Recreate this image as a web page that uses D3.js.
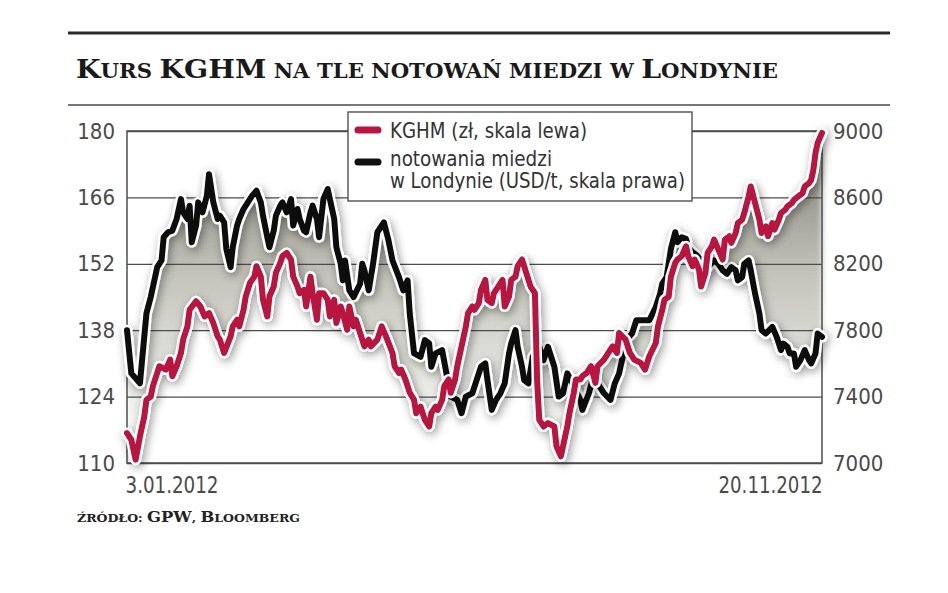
<!DOCTYPE html>
<html>
<head>
<meta charset="utf-8">
<script src="https://cdn.jsdelivr.net/npm/d3@7"></script>
<style>
  body { margin: 0; background: #fff; }
  svg { display: block; }
  .tick text, .lg text { font-family: "DejaVu Sans", sans-serif; font-stretch: condensed; fill: #4a4a4a; }
</style>
</head>
<body>
<svg width="948" height="593"></svg>
<script>
// KGHM share price (PLN, left axis) - day offset from 3 Jan 2012
var kghmDay = [0,2,4,6,8,9,11,12,14,15,18,20,21,23,25,26,28,29,32,34,36,38,40,42,43,45,48,49,51,52,54,55,57,59,60,62,63,65,66,68,69,71,72,74,76,77,79,80,82,83,85,86,88,89,91,93,94,96,97,99,100,102,103,105,106,108,110,112,113,116,118,120,123,124,126,127,129,131,133,134,136,138,140,141,143,144,146,147,149,150,152,153,155,157,158,160,161,163,164,166,167,169,170,172,174,175,177,178,180,181,183,184,186,187,189,190,191,193,195,198,199,201,202,204,205,207,208,210,211,213,215,217,218,221,223,225,227,228,231,233,235,238,240,242,245,246,248,249,251,252,254,255,257,259,260,262,263,265,266,268,269,271,272,274,276,277,279,280,282,283,285,286,288,289,291,293,294,296,297,299,300,302,303,305,306,308,309,311,313,314,316,317,318,319,320,322];
var kghmPln = [116.3,114.9,110.7,115.6,119.8,123.3,124.0,126.2,129.0,130.4,129.7,131.8,128.3,130.4,133.2,136.0,138.8,142.3,144.1,143.0,140.9,141.6,139.5,136.7,136.0,133.2,136.7,138.8,140.2,138.8,142.3,145.1,148.0,149.3,151.5,149.3,144.4,140.9,145.1,147.2,150.1,152.2,153.6,154.3,152.9,149.3,147.2,145.8,146.5,143.0,149.3,145.8,140.2,145.8,145.8,144.4,140.9,144.4,139.5,143.0,141.6,138.1,143.0,138.8,140.2,137.4,134.6,136.0,134.6,136.0,138.8,136.7,133.2,130.4,129.0,129.7,127.6,124.8,123.3,120.5,121.9,119.1,117.7,120.5,121.9,121.2,123.3,126.2,127.6,124.8,127.6,130.4,134.6,138.8,141.6,143.0,142.3,143.7,146.5,148.6,144.4,143.7,145.8,147.2,148.6,143.0,145.1,148.6,149.3,151.5,152.9,151.5,148.6,147.2,145.8,127.6,119.1,117.7,118.4,117.7,113.5,111.4,113.5,117.7,120.5,124.8,127.6,127.6,128.3,129.0,130.4,126.9,130.4,131.8,133.2,134.6,133.2,137.4,136.0,133.2,131.8,131.1,129.7,132.5,135.3,138.8,142.3,144.4,145.1,149.3,152.2,152.9,153.6,155.7,153.6,151.5,152.9,150.8,147.2,150.1,154.3,155.7,157.1,155.0,152.9,157.1,157.8,156.4,158.5,160.6,161.3,162.7,166.2,168.3,164.8,161.3,158.5,159.9,157.8,160.6,159.2,161.3,162.7,163.4,164.1,164.8,165.5,166.2,166.9,168.3,169.0,169.7,171.8,175.4,177.5,179.6];

// copper in London (USD/t, right axis)
var copperDay = [0,2,6,8,9,11,12,14,16,17,19,21,23,25,26,28,29,30,32,33,35,37,38,40,42,43,45,46,48,49,51,52,54,56,58,60,62,63,65,66,68,69,71,72,74,76,77,79,80,82,83,85,86,88,89,91,93,94,96,97,99,100,101,103,105,108,109,110,112,114,116,119,121,123,126,128,130,131,133,136,138,140,141,143,146,148,150,153,155,157,160,162,164,166,167,169,171,173,175,177,178,180,181,183,184,186,188,191,193,195,198,200,202,204,210,211,214,216,219,221,224,226,228,230,231,234,236,239,242,245,247,248,250,252,254,255,257,259,260,262,264,266,267,269,272,274,276,278,280,282,283,285,286,288,289,291,293,294,296,299,301,303,304,306,307,309,310,312,314,316,317,319,320,322];
var copperUsd = [7800,7540,7480,7760,7900,8000,8060,8180,8220,8360,8390,8400,8470,8590,8510,8470,8550,8330,8430,8570,8510,8610,8740,8570,8470,8490,8450,8290,8180,8300,8430,8470,8530,8570,8610,8640,8570,8490,8360,8300,8400,8490,8550,8570,8510,8590,8430,8530,8470,8400,8390,8510,8550,8470,8360,8590,8650,8590,8470,8300,8200,8100,8220,8040,8000,8080,8200,8160,8040,8200,8390,8450,8350,8220,8120,8040,8100,7900,7660,7640,7740,7720,7580,7660,7680,7540,7400,7380,7300,7400,7420,7500,7580,7600,7500,7320,7380,7420,7480,7660,7720,7800,7700,7580,7500,7480,7640,7700,7620,7700,7580,7400,7420,7540,7380,7320,7420,7520,7460,7420,7380,7480,7540,7660,7740,7780,7860,7860,7860,7940,8020,8080,8120,8290,8390,8330,8360,8350,8300,8270,8250,8220,8140,8180,8220,8200,8160,8140,8180,8160,8100,8120,8200,8220,8160,8020,7900,7800,7780,7820,7760,7680,7720,7700,7660,7660,7580,7620,7680,7620,7600,7660,7780,7760];

var leftTicks = [110, 124, 138, 152, 166, 180];
var rightTicks = [7000, 7400, 7800, 8200, 8600, 9000];
var startDate = new Date(2012, 0, 3);
var endDate = new Date(2012, 10, 20);

var svg = d3.select("svg"),
  plot = {left: 127, right: 822, top: 131, bottom: 463};

var x = d3.scaleTime().domain([startDate, endDate]).range([plot.left, plot.right]);
var yL = d3.scaleLinear().domain([110, 180]).range([plot.bottom, plot.top]);
var yR = d3.scaleLinear().domain([7000, 9000]).range([plot.bottom, plot.top]);

var kghm = kghmDay.map(function(d, i) { return {date: d3.timeDay.offset(startDate, d), v: kghmPln[i]}; });
var copper = copperDay.map(function(d, i) { return {date: d3.timeDay.offset(startDate, d), v: copperUsd[i]}; });

var defs = svg.append("defs");
var grad = defs.append("linearGradient").attr("id", "fillGrad")
  .attr("gradientUnits", "userSpaceOnUse").attr("x1", 0).attr("y1", 160).attr("x2", 0).attr("y2", 420);
grad.append("stop").attr("offset", 0).attr("stop-color", "#8a8a80");
grad.append("stop").attr("offset", 0.45).attr("stop-color", "#c4c4bc");
grad.append("stop").attr("offset", 1).attr("stop-color", "#f4f4f2");

defs.append("filter").attr("id", "soft")
  .append("feGaussianBlur").attr("stdDeviation", 3);

var sh = defs.append("filter").attr("id", "shadow")
  .attr("x", "-5%").attr("y", "-10%").attr("width", "115%").attr("height", "130%");
sh.append("feGaussianBlur").attr("in", "SourceAlpha").attr("stdDeviation", 5).attr("result", "blur");
sh.append("feOffset").attr("in", "blur").attr("dx", 2).attr("dy", 3).attr("result", "off");
sh.append("feComponentTransfer").attr("in", "off").attr("result", "shade")
  .append("feFuncA").attr("type", "linear").attr("slope", 0.4);
var merge = sh.append("feMerge");
merge.append("feMergeNode").attr("in", "shade");
merge.append("feMergeNode").attr("in", "SourceGraphic");

// small caps drawn by hand: capitals big, lower case as smaller capitals
function smallCaps(sel, str, big, small) {
  str.split(/(\s+)/).forEach(function(word) {
    var parts = word.match(/([A-ZĄĆĘŁŃÓŚŹŻ]+|[^A-ZĄĆĘŁŃÓŚŹŻ]+)/g) || [];
    parts.forEach(function(p) {
      var isUpper = /[A-ZĄĆĘŁŃÓŚŹŻ]/.test(p[0]);
      sel.append("tspan").style("font-size", (isUpper ? big : small) + "px").text(isUpper ? p : p.toUpperCase());
    });
  });
}

// title and rules
svg.append("line").attr("x1", 68).attr("x2", 890).attr("y1", 33).attr("y2", 33)
  .attr("stroke", "#2a2a2a").attr("stroke-width", 3);
svg.append("line").attr("x1", 68).attr("x2", 890).attr("y1", 105).attr("y2", 105)
  .attr("stroke", "#777").attr("stroke-width", 2);
var title = svg.append("text")
  .attr("x", 76).attr("y", 78)
  .attr("textLength", 702).attr("lengthAdjust", "spacingAndGlyphs")
  .style("font-family", "'DejaVu Serif', 'Liberation Serif', serif")
  .style("font-weight", "bold").style("fill", "#1a1a1a");
smallCaps(title, "Kurs KGHM na tle notowań miedzi w Londynie", 26, 19.5);

// shaded band between the two lines
var lineL = d3.line().x(function(d) { return x(d.date); }).y(function(d) { return yL(d.v); });
var lineR = d3.line().x(function(d) { return x(d.date); }).y(function(d) { return yR(d.v); });
var band = kghm.map(function(d) { return [x(d.date), yL(d.v)]; })
  .concat(copper.slice().reverse().map(function(d) { return [x(d.date), yR(d.v)]; }));
svg.append("path")
  .attr("d", d3.line()(band) + "Z")
  .attr("fill", "url(#fillGrad)")
  .attr("filter", "url(#soft)");

// grid + axes
var w = plot.right - plot.left;
svg.append("g")
  .attr("transform", "translate(" + plot.left + ",0)")
  .call(d3.axisLeft(yL).tickValues(leftTicks).tickSize(-w).tickPadding(12))
  .call(function(g) { g.select(".domain").remove(); })
  .call(function(g) { g.selectAll(".tick line").attr("stroke", "#4d4d4d").attr("stroke-width", 1.3); })
  .call(function(g) { g.selectAll(".tick text").style("font-size", "22px"); });

svg.append("g")
  .attr("transform", "translate(" + plot.right + ",0)")
  .call(d3.axisRight(yR).tickValues(rightTicks).tickSize(0).tickPadding(11).tickFormat(d3.format("d")))
  .call(function(g) { g.select(".domain").remove(); })
  .call(function(g) { g.selectAll(".tick text").style("font-size", "22px"); });

var dateWidths = [93, 104];
svg.append("g")
  .attr("transform", "translate(0," + plot.bottom + ")")
  .call(d3.axisBottom(x).tickValues([startDate, endDate]).tickSize(0).tickPadding(14)
    .tickFormat(d3.timeFormat("%-d.%m.%Y")))
  .call(function(g) { g.select(".domain").remove(); })
  .call(function(g) {
    g.selectAll(".tick text").style("font-size", "23px")
      .attr("textLength", function(d, i) { return dateWidths[i]; })
      .attr("lengthAdjust", "spacingAndGlyphs")
      .attr("text-anchor", function(d, i) { return i === 0 ? "start" : "end"; })
      .attr("dx", function(d, i) { return i === 0 ? -2 : 0; });
  });

svg.append("rect")
  .attr("x", plot.left).attr("y", plot.top).attr("width", w).attr("height", plot.bottom - plot.top)
  .attr("fill", "none").attr("stroke", "#4d4d4d").attr("stroke-width", 1.5);

// lines: white halo under colored stroke, soft drop shadow
function drawSeries(data, line, color) {
  var g = svg.append("g").attr("filter", "url(#shadow)");
  g.append("path").datum(data).attr("d", line)
    .attr("fill", "none").attr("stroke", "#fff").attr("stroke-width", 11)
    .attr("stroke-linejoin", "round").attr("stroke-linecap", "round");
  g.append("path").datum(data).attr("d", line)
    .attr("fill", "none").attr("stroke", color).attr("stroke-width", 6)
    .attr("stroke-linejoin", "round").attr("stroke-linecap", "round");
}
drawSeries(copper, lineR, "#111");
drawSeries(kghm, lineL, "#b8163f");

// legend
var lg = svg.append("g").attr("class", "lg");
lg.append("rect").attr("x", 348).attr("y", 112).attr("width", 344).attr("height", 89)
  .attr("fill", "#fff").attr("stroke", "#444").attr("stroke-width", 1.3);
[["#b8163f", 130], ["#111", 162]].forEach(function(s) {
  lg.append("line").attr("x1", 358).attr("x2", 378).attr("y1", s[1]).attr("y2", s[1])
    .attr("stroke", s[0]).attr("stroke-width", 7).attr("stroke-linecap", "round");
});
var legendText = [["KGHM (zł, skala lewa)", 137.5, 197], ["notowania miedzi", 165.5, 162], ["w Londynie (USD/t, skala prawa)", 187.5, 295]];
legendText.forEach(function(t) {
  lg.append("text").attr("x", 390).attr("y", t[1])
    .attr("textLength", t[2]).attr("lengthAdjust", "spacingAndGlyphs")
    .style("font-size", "21px").style("fill", "#333")
    .text(t[0]);
});

// source
var src = svg.append("text")
  .attr("x", 77).attr("y", 522)
  .attr("textLength", 223).attr("lengthAdjust", "spacingAndGlyphs")
  .style("font-family", "'DejaVu Serif', 'Liberation Serif', serif")
  .style("font-weight", "bold").style("fill", "#222");
smallCaps(src, "źródło: GPW, Bloomberg", 15, 11.5);
</script>
</body>
</html>
